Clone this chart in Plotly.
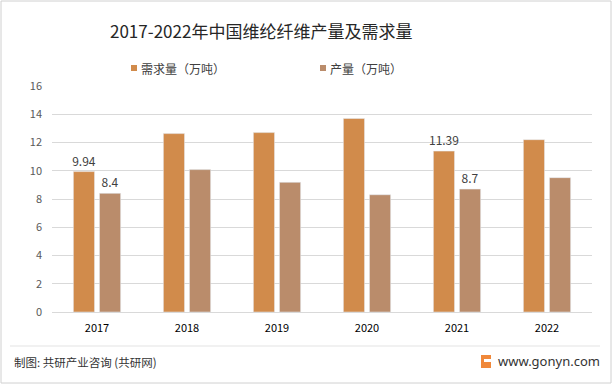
import plotly.graph_objects as go

years = ["2017", "2018", "2019", "2020", "2021", "2022"]
demand = [9.94, 12.63, 12.7, 13.7, 11.39, 12.2]
production = [8.4, 10.08, 9.18, 8.3, 8.7, 9.51]
demand_labels = ["9.94", "", "", "", "11.39", ""]
production_labels = ["8.4", "", "", "", "8.7", ""]
series_names = ["需求量（万吨）", "产量（万吨）"]
series_colors = ["#D18B4B", "#BA8C6B"]

W, H = 612, 384
L, R, T, B = 52, 592, 86, 312

def px(x):
    return (x - L) / (R - L)

def py(y):
    return (B - y) / (B - T)

FONT = "Noto Sans CJK SC"

fig = go.Figure()
fig.add_trace(go.Bar(
    x=years, y=demand, name=series_names[0],
    marker=dict(color=series_colors[0]),
    text=demand_labels, textposition="outside", cliponaxis=False, constraintext="none",
    textfont=dict(size=12, color="#404040", family=FONT),
))
fig.add_trace(go.Bar(
    x=years, y=production, name=series_names[1],
    marker=dict(color=series_colors[1]),
    text=production_labels, textposition="outside", cliponaxis=False, constraintext="none",
    textfont=dict(size=12, color="#404040", family=FONT),
))

legend_x = [131, 320]
shapes = [
    dict(type="rect", xref="paper", yref="paper",
         x0=px(1), x1=px(611), y0=py(1), y1=py(383),
         line=dict(color="#D0D0D0", width=1), fillcolor="rgba(0,0,0,0)", layer="below"),
    dict(type="line", xref="paper", yref="paper",
         x0=px(10), x1=px(600), y0=py(346), y1=py(346),
         line=dict(color="#E3E3E3", width=1)),
    dict(type="rect", xref="paper", yref="paper",
         x0=px(481), x1=px(491), y0=py(355), y1=py(368),
         line=dict(width=0), fillcolor="#F0883A"),
    dict(type="rect", xref="paper", yref="paper",
         x0=px(484), x1=px(491), y0=py(359), y1=py(362),
         line=dict(width=0), fillcolor="white"),
]
annotations = [
    dict(text="2017-2022年中国维纶纤维产量及需求量", xref="paper", yref="paper",
         x=px(261), y=py(31), xanchor="center", yanchor="middle", showarrow=False,
         font=dict(size=17, color="#262626", family=FONT)),
    dict(text="制图: 共研产业咨询 (共研网)", xref="paper", yref="paper",
         x=px(12), y=py(362), xanchor="left", yanchor="middle", showarrow=False,
         font=dict(size=11.5, color="#333333", family=FONT)),
    dict(text="www.gonyn.com", xref="paper", yref="paper",
         x=px(496), y=py(361), xanchor="left", yanchor="middle", showarrow=False,
         font=dict(size=13, color="#333333", family="Noto Sans")),
]
for lx, name, col in zip(legend_x, series_names, series_colors):
    shapes.append(dict(type="rect", xref="paper", yref="paper",
                       x0=px(lx), x1=px(lx + 6), y0=py(65), y1=py(71),
                       line=dict(width=0), fillcolor=col))
    annotations.append(dict(text=name, xref="paper", yref="paper",
                            x=px(lx + 8), y=py(68), xanchor="left", yanchor="middle",
                            showarrow=False,
                            font=dict(size=12, color="#404040", family=FONT)))

fig.update_layout(
    width=W, height=H,
    margin=dict(l=L, r=W - R, t=T, b=H - B),
    paper_bgcolor="white", plot_bgcolor="white",
    font=dict(family=FONT, color="#404040"),
    barmode="group", bargap=0.42, bargroupgap=0.19,
    showlegend=False,
    xaxis=dict(
        showgrid=False, showline=True, linecolor="#D9D9D9", linewidth=1,
        ticks="", ticklabelstandoff=6,
        tickfont=dict(size=11, color="#000000", family=FONT),
    ),
    yaxis=dict(
        range=[0, 16], dtick=2, showgrid=True, gridcolor="#D9D9D9", gridwidth=1,
        zeroline=False, showline=False, ticks="", ticklabelstandoff=9,
        tickfont=dict(size=11, color="#595959", family=FONT),
    ),
    shapes=shapes,
    annotations=annotations,
)

fig.write_html("out.html", config={"displayModeBar": False},
               post_script="document.body.style.margin='0';")
